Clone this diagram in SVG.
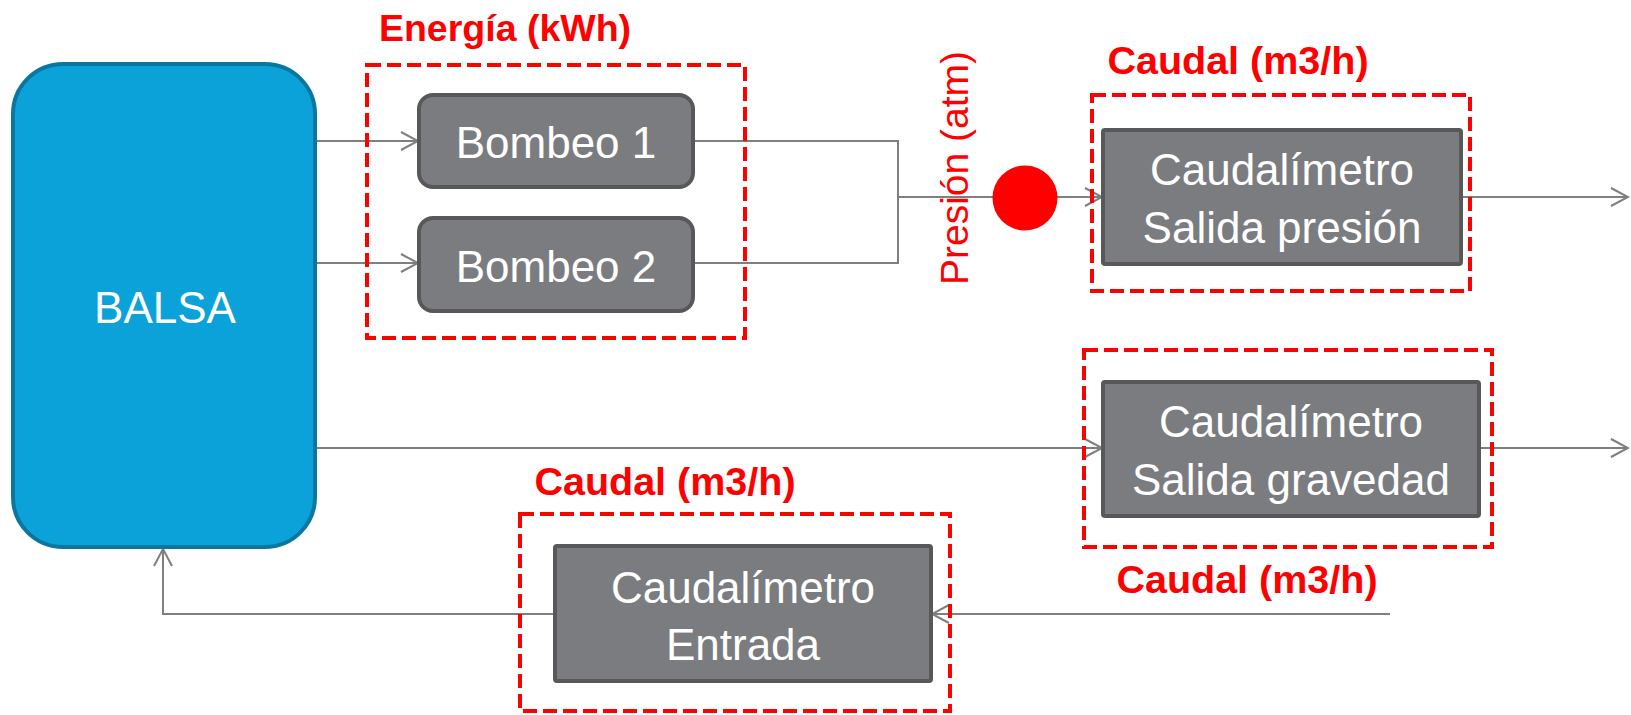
<svg xmlns="http://www.w3.org/2000/svg" width="1631" height="715" viewBox="0 0 1631 715">
<style>
.box{fill:#7b7c80;stroke:#58585a;stroke-width:4}
.dash{fill:none;stroke:#ff0000;stroke-width:4;stroke-dasharray:14 6}
.wt{font-family:"Liberation Sans",Arial,sans-serif;font-size:44px;fill:#ffffff;text-anchor:middle}
.rt{font-family:"Liberation Sans",Arial,sans-serif;font-size:39.5px;font-weight:bold;fill:#ff0000;text-anchor:middle}
.ln{fill:none;stroke:#7f7f7f;stroke-width:2}
</style>
<defs>
<marker id="arr" markerWidth="20" markerHeight="20" refX="18" refY="10" orient="auto" markerUnits="userSpaceOnUse">
<path d="M1,1 L18,10 L1,19" fill="none" stroke="#7f7f7f" stroke-width="2"/>
</marker>
</defs>
<rect width="1631" height="715" fill="#ffffff"/>
<g id="connectors">
<path class="ln" d="M315,141 H418" marker-end="url(#arr)"/>
<path class="ln" d="M315,263 H418" marker-end="url(#arr)"/>
<path class="ln" d="M694,141 H898 V263 H694"/>
<path class="ln" d="M898,197 H1102" marker-end="url(#arr)"/>
<path class="ln" d="M1462,197 H1628" marker-end="url(#arr)"/>
<path class="ln" d="M315,448 H1102" marker-end="url(#arr)"/>
<path class="ln" d="M1479,448 H1628" marker-end="url(#arr)"/>
<path class="ln" d="M1390,614 H932" marker-end="url(#arr)"/>
<path class="ln" d="M555,614 H163 V549" marker-end="url(#arr)"/>
</g>
<g id="balsa">
<rect x="13" y="64" width="302" height="483" rx="50" fill="#0aa2d8" stroke="#0b77a0" stroke-width="4"/>
<text class="wt" x="165" y="323">BALSA</text>
</g>
<g id="energia">
<rect class="dash" x="367" y="65" width="378" height="273"/>
<text class="rt" x="505" y="41" style="font-size:37.5px">Energía (kWh)</text>
</g>
<g id="bombeo1">
<rect class="box" x="419" y="95" width="274" height="92" rx="14"/>
<text class="wt" x="556" y="158">Bombeo 1</text>
</g>
<g id="bombeo2">
<rect class="box" x="419" y="218" width="274" height="93" rx="14"/>
<text class="wt" x="556" y="282">Bombeo 2</text>
</g>
<g id="presion">
<circle cx="1025" cy="198" r="32.5" fill="#ff0000"/>
<text transform="translate(968,168) rotate(-90)" font-family="'Liberation Sans',Arial,sans-serif" font-size="39" fill="#ff0000" text-anchor="middle">Presión (atm)</text>
</g>
<g id="caudal-presion">
<rect class="dash" x="1092" y="95" width="378" height="196"/>
<text class="rt" x="1238" y="74">Caudal (m3/h)</text>
<rect class="box" x="1103" y="130" width="358" height="134" rx="2"/>
<text class="wt" x="1282" y="185">Caudalímetro</text>
<text class="wt" x="1282" y="243">Salida presión</text>
</g>
<g id="caudal-gravedad">
<rect class="dash" x="1084" y="350" width="408" height="197"/>
<rect class="box" x="1103" y="382" width="376" height="134" rx="2"/>
<text class="wt" x="1291" y="437">Caudalímetro</text>
<text class="wt" x="1291" y="495">Salida gravedad</text>
<text class="rt" x="1247" y="593">Caudal (m3/h)</text>
</g>
<g id="caudal-entrada">
<rect class="dash" x="520" y="514" width="430" height="197"/>
<text class="rt" x="665" y="495">Caudal (m3/h)</text>
<rect class="box" x="555" y="546" width="376" height="135" rx="2"/>
<text class="wt" x="743" y="603">Caudalímetro</text>
<text class="wt" x="743" y="660">Entrada</text>
</g>
</svg>
